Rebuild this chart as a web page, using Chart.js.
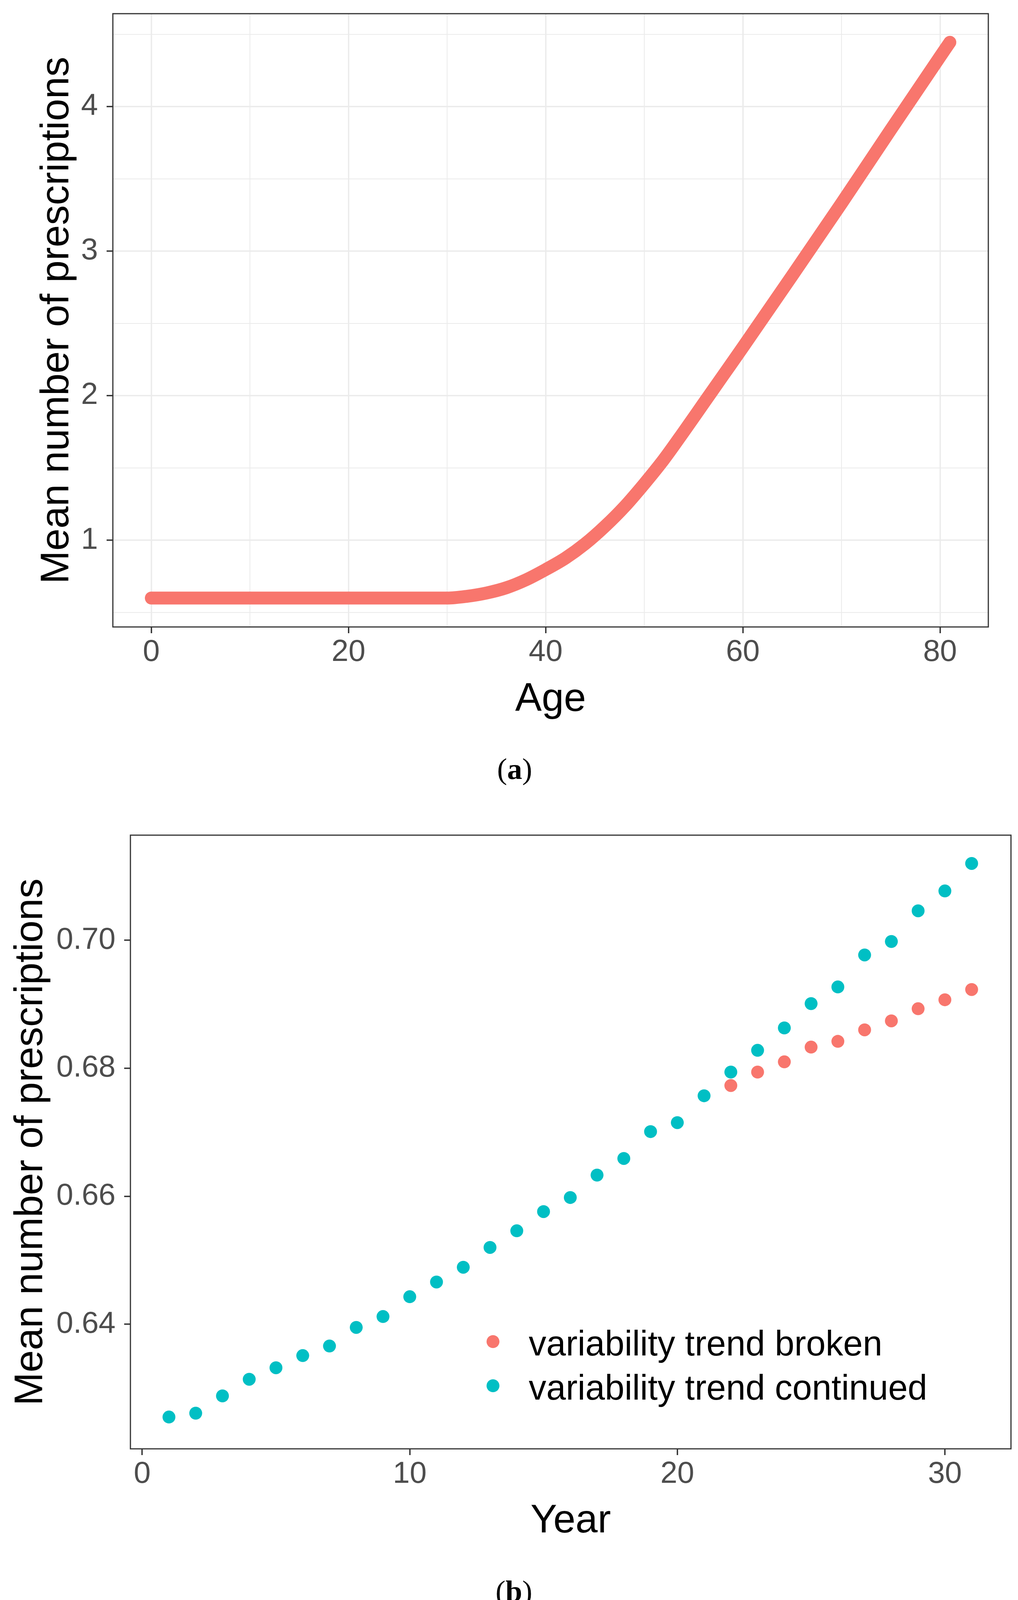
<!DOCTYPE html>
<html>
<head>
<meta charset="utf-8">
<script src="https://cdn.jsdelivr.net/npm/chart.js@4.4.1/dist/chart.umd.min.js"></script>
<style>
    html, body { margin: 0; padding: 0; background: #fff; }
    body { position: relative; width: 2607px; height: 4141px; overflow: hidden;
           font-family: 'Liberation Sans', Arial, sans-serif; }
    canvas { position: absolute; left: 0; }
    #grafica_a { top: 0; }
    #grafica_b { top: 2050px; }
    .caption { position: absolute; font-family: 'Liberation Serif', 'Times New Roman', serif;
               font-size: 77px; line-height: 77px; transform: translateX(-50%); color: #000; }
    .legend_row { position: absolute; left: 1354px; font-size: 90px; line-height: 90px;
                  color: #000; white-space: nowrap; }
    .legend_dot { position: absolute; width: 33px; height: 33px; border-radius: 50%; }
</style>
</head>
<body>
<canvas id="grafica_a" width="2607" height="1855"></canvas>
<div class="caption" style="left:1318px; top:1930px">(<b>a</b>)</div>
<canvas id="grafica_b" width="2607" height="1919"></canvas>
<div id="legend_b"></div>
<div class="caption" style="left:1316px; top:4035px">(<b>b</b>)</div>

<script>
/* panel (a): mean prescriptions by age */
const ages        = [0, 10, 20, 30, 32, 34, 36, 38, 40, 42, 44, 46, 48, 50, 52, 54, 56, 58, 60, 65, 70, 75, 80, 81];
const mean_by_age = [0.6, 0.6, 0.6, 0.6, 0.612, 0.635, 0.671, 0.726, 0.797, 0.876, 0.975, 1.095, 1.232, 1.39,
                     1.56, 1.75, 1.945, 2.14, 2.335, 2.83, 3.33, 3.84, 4.345, 4.445];
const age_ticks   = [0, 20, 40, 60, 80];
const age_grid    = [0, 10, 20, 30, 40, 50, 60, 70, 80];
const mean_ticks  = [1, 2, 3, 4];
const mean_grid   = [0.5, 1, 1.5, 2, 2.5, 3, 3.5, 4, 4.5];

/* panel (b): mean prescriptions by year, two scenarios */
const years           = [1, 2, 3, 4, 5, 6, 7, 8, 9, 10, 11, 12, 13, 14, 15, 16, 17, 18, 19, 20,
                         21, 22, 23, 24, 25, 26, 27, 28, 29, 30, 31];
const trend_continued = [0.6255, 0.6261, 0.6288, 0.6314, 0.6332, 0.6351, 0.6366, 0.6395, 0.6412, 0.6443,
                         0.6466, 0.6489, 0.6520, 0.6546, 0.6576, 0.6598, 0.6633, 0.6659, 0.6701, 0.6715,
                         0.6757, 0.6794, 0.6828, 0.6863, 0.6901, 0.6927, 0.6977, 0.6998, 0.7046, 0.7077, 0.7120];
const years_broken    = [22, 23, 24, 25, 26, 27, 28, 29, 30, 31];
const trend_broken    = [0.6773, 0.6794, 0.6810, 0.6833, 0.6842, 0.6860, 0.6874, 0.6893, 0.6907, 0.6923];
const year_ticks      = [0, 10, 20, 30];
const value_ticks     = [0.64, 0.66, 0.68, 0.70];
const series_names    = ['variability trend broken', 'variability trend continued'];
const series_colours  = ['#F8766D', '#00BFC4'];

const tick_font  = { family: "'Liberation Sans', Arial, sans-serif", size: 78, lineHeight: 1 };
const title_font = { family: "'Liberation Sans', Arial, sans-serif", size: 102, lineHeight: 1 };

/* ggplot style panel border drawn over the data */
const panel_border = {
    id: 'panel_border',
    afterDatasetsDraw(chart) {
        const { ctx, chartArea: a } = chart;
        ctx.save();
        ctx.strokeStyle = '#333333';
        ctx.lineWidth = 3;
        ctx.strokeRect(a.left, a.top, a.right - a.left, a.bottom - a.top);
        ctx.restore();
    }
};

/* builds a scale whose ticks come from a fixed list */
function make_scale(opts) {
    return {
        type: 'linear',
        min: opts.min,
        max: opts.max,
        afterBuildTicks: s => { s.ticks = opts.grid.map(v => ({ value: v })); },
        afterFit: s => {
            /* fixed axis size, no extra room for half labels */
            if (opts.width) s.width = opts.width;
            if (opts.height) s.height = opts.height;
            s.paddingTop = 0; s.paddingBottom = 0; s.paddingLeft = 0; s.paddingRight = 0;
        },
        ticks: {
            autoSkip: false, maxRotation: 0, minRotation: 0,
            color: '#4D4D4D', font: tick_font, padding: opts.pad,
            callback: v => opts.labels.includes(v) ? opts.fmt(v) : ''
        },
        grid: {
            drawOnChartArea: opts.gridlines,
            color: '#EBEBEB',
            lineWidth: c => opts.labels.includes(c.tick.value) ? 3.5 : 2,
            tickColor: c => opts.labels.includes(c.tick.value) ? '#333333' : 'rgba(0,0,0,0)',
            tickLength: 16,
            tickWidth: 3.5
        },
        border: { display: false },
        title: { display: true, text: opts.title, color: '#000', font: title_font, padding: opts.title_pad }
    };
}

new Chart(document.getElementById('grafica_a'), {
    type: 'line',
    data: {
        datasets: [{
            data: ages.map((a, i) => ({ x: a, y: mean_by_age[i] })),
            borderColor: series_colours[0],
            borderWidth: 33,
            borderCapStyle: 'round',
            borderJoinStyle: 'round',
            pointRadius: 0,
            cubicInterpolationMode: 'monotone',
            fill: false
        }]
    },
    options: {
        responsive: false, animation: false, devicePixelRatio: 1,
        layout: { padding: { left: 0, top: 35, right: 76, bottom: 0 } },
        plugins: { legend: { display: false }, tooltip: { enabled: false } },
        scales: {
            x: make_scale({ min: -3.9, max: 84.9, grid: age_grid, labels: age_ticks, fmt: v => String(v),
                            height: 250, pad: 10, gridlines: true, title: 'Age', title_pad: { top: 0, bottom: 12 } }),
            y: make_scale({ min: 0.40, max: 4.643, grid: mean_grid, labels: mean_ticks, fmt: v => String(v),
                            width: 289, pad: 22, gridlines: true, title: 'Mean number of prescriptions',
                            title_pad: { top: 96, bottom: 0 } })
        }
    },
    plugins: [panel_border]
});

new Chart(document.getElementById('grafica_b'), {
    type: 'scatter',
    data: {
        datasets: [
            {
                label: series_names[1],
                data: years.map((y, i) => ({ x: y, y: trend_continued[i] })),
                backgroundColor: series_colours[1], pointRadius: 16.5, pointBorderWidth: 0
            },
            {
                label: series_names[0],
                data: years_broken.map((y, i) => ({ x: y, y: trend_broken[i] })),
                backgroundColor: series_colours[0], pointRadius: 16.5, pointBorderWidth: 0
            }
        ]
    },
    options: {
        responsive: false, animation: false, devicePixelRatio: 1,
        layout: { padding: { left: 0, top: 88, right: 18, bottom: 0 } },
        plugins: { legend: { display: false }, tooltip: { enabled: false } },
        scales: {
            x: make_scale({ min: -0.44, max: 32.47, grid: year_ticks, labels: year_ticks, fmt: v => String(v),
                            height: 260, pad: 10, gridlines: false, title: 'Year', title_pad: { top: 0, bottom: 23 } }),
            y: make_scale({ min: 0.62053, max: 0.71642, grid: value_ticks, labels: value_ticks, fmt: v => v.toFixed(2),
                            width: 334, pad: 22, gridlines: false, title: 'Mean number of prescriptions',
                            title_pad: { top: 29, bottom: 0 } })
        }
    },
    plugins: [panel_border]
});

/* legend inside panel (b) */
const legend_b = document.getElementById('legend_b');
series_names.forEach((name, i) => {
    const dot = document.createElement('div');
    dot.className = 'legend_dot';
    dot.style.left = '1246px';
    dot.style.top = (3418 + i * 113) + 'px';
    dot.style.background = series_colours[i];
    legend_b.appendChild(dot);

    const row = document.createElement('div');
    row.className = 'legend_row';
    row.style.top = (3394 + i * 113) + 'px';
    row.textContent = name;
    legend_b.appendChild(row);
});
</script>
</body>
</html>
